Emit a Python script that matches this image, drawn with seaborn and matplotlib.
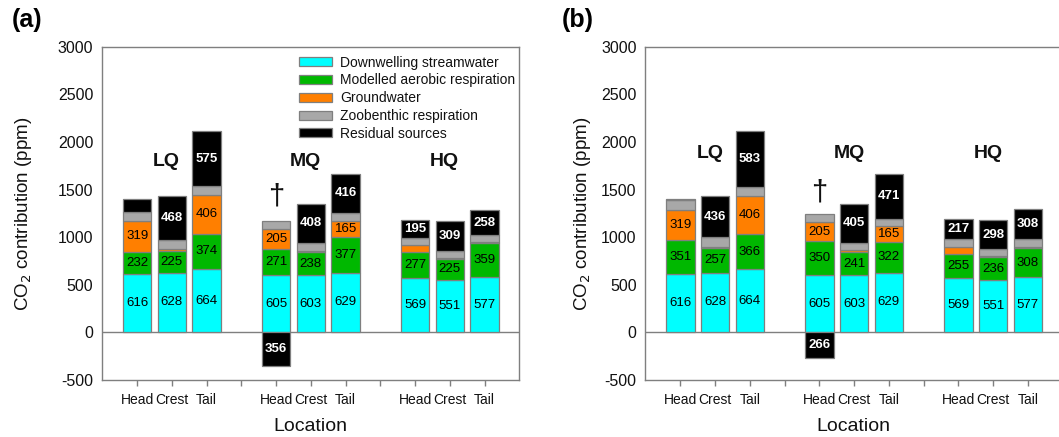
import numpy as np
import matplotlib
matplotlib.use("Agg")
import matplotlib.pyplot as plt
from matplotlib.patches import Patch
import seaborn as sns

# Sampling locations within each riffle and flow condition
locations = ["Head", "Crest", "Tail"]
flows = ["LQ", "MQ", "HQ"]

# CO2 source contributions (ppm), ordered LQ Head..Tail, MQ Head..Tail, HQ Head..Tail
downwelling = [616, 628, 664, 605, 603, 629, 569, 551, 577]

aerobic_a = [232, 225, 374, 271, 238, 377, 277, 225, 359]
groundwater_a = [319, 20, 406, 205, 15, 165, 67, 10, 12]
zoobenthic_a = [100, 95, 92, 90, 85, 80, 74, 70, 75]
residual_a = [134, 468, 575, -356, 408, 416, 195, 309, 258]

aerobic_b = [351, 257, 366, 350, 241, 322, 255, 236, 308]
groundwater_b = [319, 12, 406, 205, 20, 165, 72, 12, 15]
zoobenthic_b = [105, 100, 95, 85, 80, 80, 80, 80, 83]
residual_b = [10, 436, 583, -266, 405, 471, 217, 298, 308]

source_names = ["Downwelling streamwater", "Modelled aerobic respiration",
                "Groundwater", "Zoobenthic respiration", "Residual sources"]
source_colors = ["#00FFFF", "#00B800", "#FF7F00", "#A8A8A8", "#000000"]

sns.set_theme(style="white")
plt.rcParams["font.family"] = ["Liberation Sans", "DejaVu Sans"]
plt.rcParams["text.color"] = "#111111"
plt.rcParams["axes.labelcolor"] = "#111111"
plt.rcParams["xtick.labelcolor"] = "#111111"
plt.rcParams["ytick.labelcolor"] = "#111111"

EDGE = "#7F7F7F"
fig = plt.figure(figsize=(10.59, 4.37), dpi=100)


def draw_panel(ax, aerobic, groundwater, zoobenthic, residual, tag,
               dagger_y, group_y, ylabelpad, tag_x, legend=False):
    n_groups = len(flows)
    xpos = np.array([g * 4 + i for g in range(n_groups) for i in range(len(locations))],
                    dtype=float)
    width = 0.82
    layers = [np.array(downwelling, float), np.array(aerobic, float),
              np.array(groundwater, float), np.array(zoobenthic, float)]
    bottom = np.zeros(len(xpos))
    for k, vals in enumerate(layers):
        ax.bar(xpos, vals, width, bottom=bottom, color=source_colors[k],
               edgecolor=EDGE, linewidth=0.9, zorder=3)
        for x, b, v in zip(xpos, bottom, vals):
            show = k < 2 or (k == 2 and v >= 100)
            if show:
                ax.text(x, b + v / 2, f"{v:.0f}", ha="center", va="center",
                        fontsize=9.5, color="black", zorder=5)
        bottom = bottom + vals

    res = np.array(residual, float)
    res_bottom = np.where(res >= 0, bottom, 0.0)
    ax.bar(xpos, res, width, bottom=res_bottom, color=source_colors[4],
           edgecolor=EDGE, linewidth=0.9, zorder=3)
    for x, b, v in zip(xpos, res_bottom, res):
        if abs(v) >= 150:
            ax.text(x, b + v / 2, f"{abs(v):.0f}", ha="center", va="center",
                    fontsize=9.5, color="white", fontweight="bold", zorder=5)

    ax.axhline(0, color=EDGE, linewidth=1.0, zorder=2)

    # flow condition labels and the dagger marking the negative residual
    for g, name in enumerate(flows):
        ax.text(g * 4 + 0.85, group_y, name, ha="center", va="center",
                fontsize=14, fontweight="bold")
    ax.text(xpos[3], dagger_y, "\u2020", ha="center", va="center", fontsize=21)

    ax.set_xlim(-1.02, 11.0)
    ax.set_ylim(-500, 3000)
    ax.set_yticks(np.arange(-500, 3001, 500))
    ax.set_yticklabels([str(v) for v in range(-500, 3001, 500)], fontsize=11.5)

    ticks = sorted(list(xpos) + [3.0, 7.0])
    labels = [locations[int(t) % 4] if int(t) % 4 < 3 else "" for t in ticks]
    ax.set_xticks(ticks)
    ax.set_xticklabels(labels, fontsize=10)
    ax.tick_params(axis="x", direction="out", length=4, width=1, color=EDGE,
                   pad=5, bottom=True)
    ax.tick_params(axis="y", length=0, pad=6)

    for sp in ax.spines.values():
        sp.set_color(EDGE)
        sp.set_linewidth(1.0)
        sp.set_visible(True)

    ax.set_xlabel("Location", fontsize=14, labelpad=8)
    ax.set_ylabel("CO$_2$ contribution (ppm)", fontsize=13.5, labelpad=ylabelpad)
    ax.text(tag_x, 1.08, tag, transform=ax.transAxes, fontsize=18,
            fontweight="bold", ha="left", va="center", color="black")

    if legend:
        handles = [Patch(facecolor=c, edgecolor=EDGE, linewidth=0.9, label=n)
                   for c, n in zip(source_colors, source_names)]
        ax.legend(handles=handles, loc="upper right", bbox_to_anchor=(1.012, 1.0),
                  frameon=False, fontsize=10, handlelength=2.4, handleheight=0.6,
                  labelspacing=0.27, handletextpad=0.6, borderaxespad=0.25)


ax_a = fig.add_axes([0.096, 0.1304, 0.3944, 0.7627])
ax_b = fig.add_axes([0.609, 0.1304, 0.3944, 0.7627])

draw_panel(ax_a, aerobic_a, groundwater_a, zoobenthic_a, residual_a, "(a)",
           dagger_y=1430, group_y=1790, ylabelpad=17, tag_x=-0.215, legend=True)
draw_panel(ax_b, aerobic_b, groundwater_b, zoobenthic_b, residual_b, "(b)",
           dagger_y=1470, group_y=1880, ylabelpad=6, tag_x=-0.2)

fig.savefig("out.png", dpi=100)
